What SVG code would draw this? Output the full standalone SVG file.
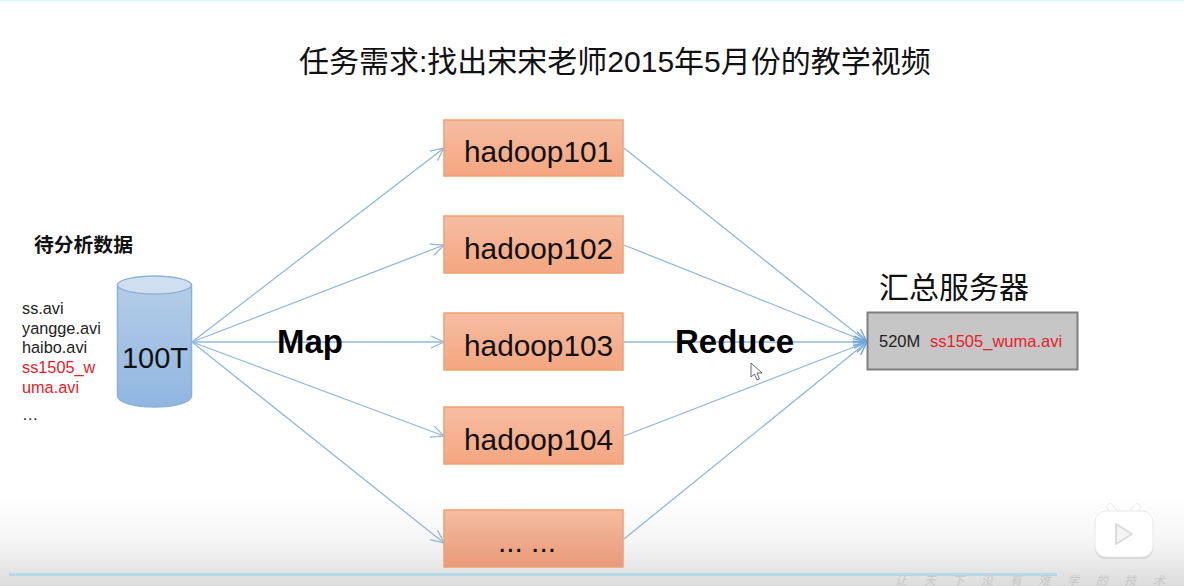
<svg xmlns="http://www.w3.org/2000/svg" width="1184" height="586" viewBox="0 0 1184 586">
<style>
text{font-family:"Liberation Sans","Noto Sans CJK SC",sans-serif;fill:#111}
.box{fill:url(#orange);stroke:#f0a070;stroke-width:1.5}
.hd{font-size:29.800px}
.file{font-size:16.300px;fill:#222}
.big{font-size:33px;font-weight:bold;fill:#000}
.conn{fill:none;stroke:#8fb8dc;stroke-width:1.3;marker-end:url(#arr)}
.conn2{fill:none;stroke:#8fb8dc;stroke-width:1.3;marker-end:url(#arr2)}
</style>
<defs>
<linearGradient id="orange" x1="0" y1="0" x2="0" y2="1"><stop offset="0" stop-color="#f6bda2"/><stop offset="1" stop-color="#f4a680"/></linearGradient>
<linearGradient id="orange2" x1="0" y1="0" x2="0" y2="1"><stop offset="0" stop-color="#f6bca0"/><stop offset="1" stop-color="#e89a78"/></linearGradient>
<linearGradient id="blue" x1="0" y1="0" x2="0" y2="1"><stop offset="0" stop-color="#b4cde8"/><stop offset="1" stop-color="#90b6e0"/></linearGradient>
<linearGradient id="shade" x1="0" y1="0" x2="0" y2="1"><stop offset="0" stop-color="#fff"/><stop offset="0.52" stop-color="#f5f5f5"/><stop offset="1" stop-color="#dcdcdc"/></linearGradient>
<marker id="arr" markerUnits="userSpaceOnUse" markerWidth="16" markerHeight="14" refX="14" refY="7" orient="auto"><path d="M1 1L14 7L1 13" fill="none" stroke="#8fb8dc" stroke-width="1.3"/></marker>
<marker id="arr2" markerUnits="userSpaceOnUse" markerWidth="16" markerHeight="14" refX="14" refY="7" orient="auto"><path d="M1 1L14 7L1 13" fill="none" stroke="#6fa5dc" stroke-width="1.4"/></marker>
</defs>
<rect width="1184" height="586" fill="#fff"/>
<rect width="1184" height="1" fill="#d4f6f4"/>
<rect y="496" width="1184" height="90" fill="url(#shade)"/>
<text id="title" x="299" y="72" font-size="30">任务需求:找出宋宋老师2015年5月份的教学视频</text>
<text x="34" y="252" font-size="19.800" font-weight="bold">待分析数据</text>
<g id="files">
<text x="22" y="314" class="file">ss.avi</text>
<text x="22" y="334" class="file">yangge.avi</text>
<text x="22" y="353" class="file">haibo.avi</text>
<text x="22" y="373" class="file" style="fill:#e8202a">ss1505_w</text>
<text x="22" y="393" class="file" style="fill:#e8202a">uma.avi</text>
<text x="22" y="420" class="file">…</text>
</g>
<g id="connectors">
<path class="conn" d="M192 342L444 148"/>
<path class="conn" d="M192 342L444 245"/>
<path class="conn" d="M192 342L444 342"/>
<path class="conn" d="M192 342L444 436"/>
<path class="conn" d="M192 342L444 543"/>
<path class="conn2" d="M624 148L867 342"/>
<path class="conn2" d="M624 245L867 342"/>
<path class="conn2" d="M624 342L867 342"/>
<path class="conn2" d="M624 436L867 342"/>
<path class="conn2" d="M624 539L867 342"/>
</g>
<g id="storage">
<path d="M117.500 285V396C117.500 402 134 407 154.500 407S191.500 402 191.500 396V285Z" fill="url(#blue)" stroke="#8db2d8" stroke-width="1.500"/>
<ellipse cx="154.500" cy="285" rx="37" ry="9" fill="#cfdff0" stroke="#8db2d8" stroke-width="1.500"/>
<text x="155" y="368" font-size="29" text-anchor="middle">100T</text>
</g>
<g id="hadoop101"><rect class="box" x="444" y="120" width="179" height="56"/><text class="hd" x="464" y="162">hadoop101</text></g>
<g id="hadoop102"><rect class="box" x="444" y="216" width="179" height="57"/><text class="hd" x="464" y="259">hadoop102</text></g>
<g id="hadoop103"><rect class="box" x="444" y="313" width="179" height="57"/><text class="hd" x="464" y="356">hadoop103</text></g>
<g id="hadoop104"><rect class="box" x="444" y="407" width="179" height="57"/><text class="hd" x="464" y="450">hadoop104</text></g>
<g id="more"><rect class="box" x="444" y="510" width="179" height="57" style="fill:url(#orange2)"/><text class="hd" x="498" y="552">... ...</text></g>
<text class="big" x="277" y="353">Map</text>
<text class="big" x="675" y="353">Reduce</text>
<g id="server">
<text x="879" y="298" font-size="30">汇总服务器</text>
<rect x="867.500" y="312.500" width="210" height="57" fill="#c6c6c6" stroke="#7f7f7f" stroke-width="2"/>
<text x="879" y="347" font-size="16.500" style="fill:#222">520M</text>
<text x="930" y="347" font-size="16.500" style="fill:#e8202a">ss1505_wuma.avi</text>
</g>
<path id="cursor" d="M751 363V377L754.500 374L757 380L759.500 379L757 373H762Z" fill="#fff" stroke="#667" stroke-width="1"/>
<rect x="9" y="573" width="1048" height="3" fill="#b6d8e8"/>
<text x="895" y="585" font-size="12" textLength="270" lengthAdjust="spacing" style="fill:#c8c8c8;font-style:italic">让天下没有难学的技术</text>
<g id="logo">
<path d="M1110 507L1117 516M1137 507L1130 516" stroke="#e4e4e4" stroke-width="7" stroke-linecap="round"/>
<path d="M1110 507L1117 516M1137 507L1130 516" stroke="#fff" stroke-width="5.500" stroke-linecap="round"/>
<rect x="1095" y="513" width="58" height="46" rx="11" fill="#d4d4d4"/>
<rect x="1095" y="511" width="58" height="46" rx="11" fill="#fff" stroke="#e8e8e8"/>
<path d="M1116 524L1132 534L1116 544Z" fill="#f4f4f4" stroke="#dcdcdc" stroke-width="2" stroke-linejoin="round"/>
</g>
</svg>
